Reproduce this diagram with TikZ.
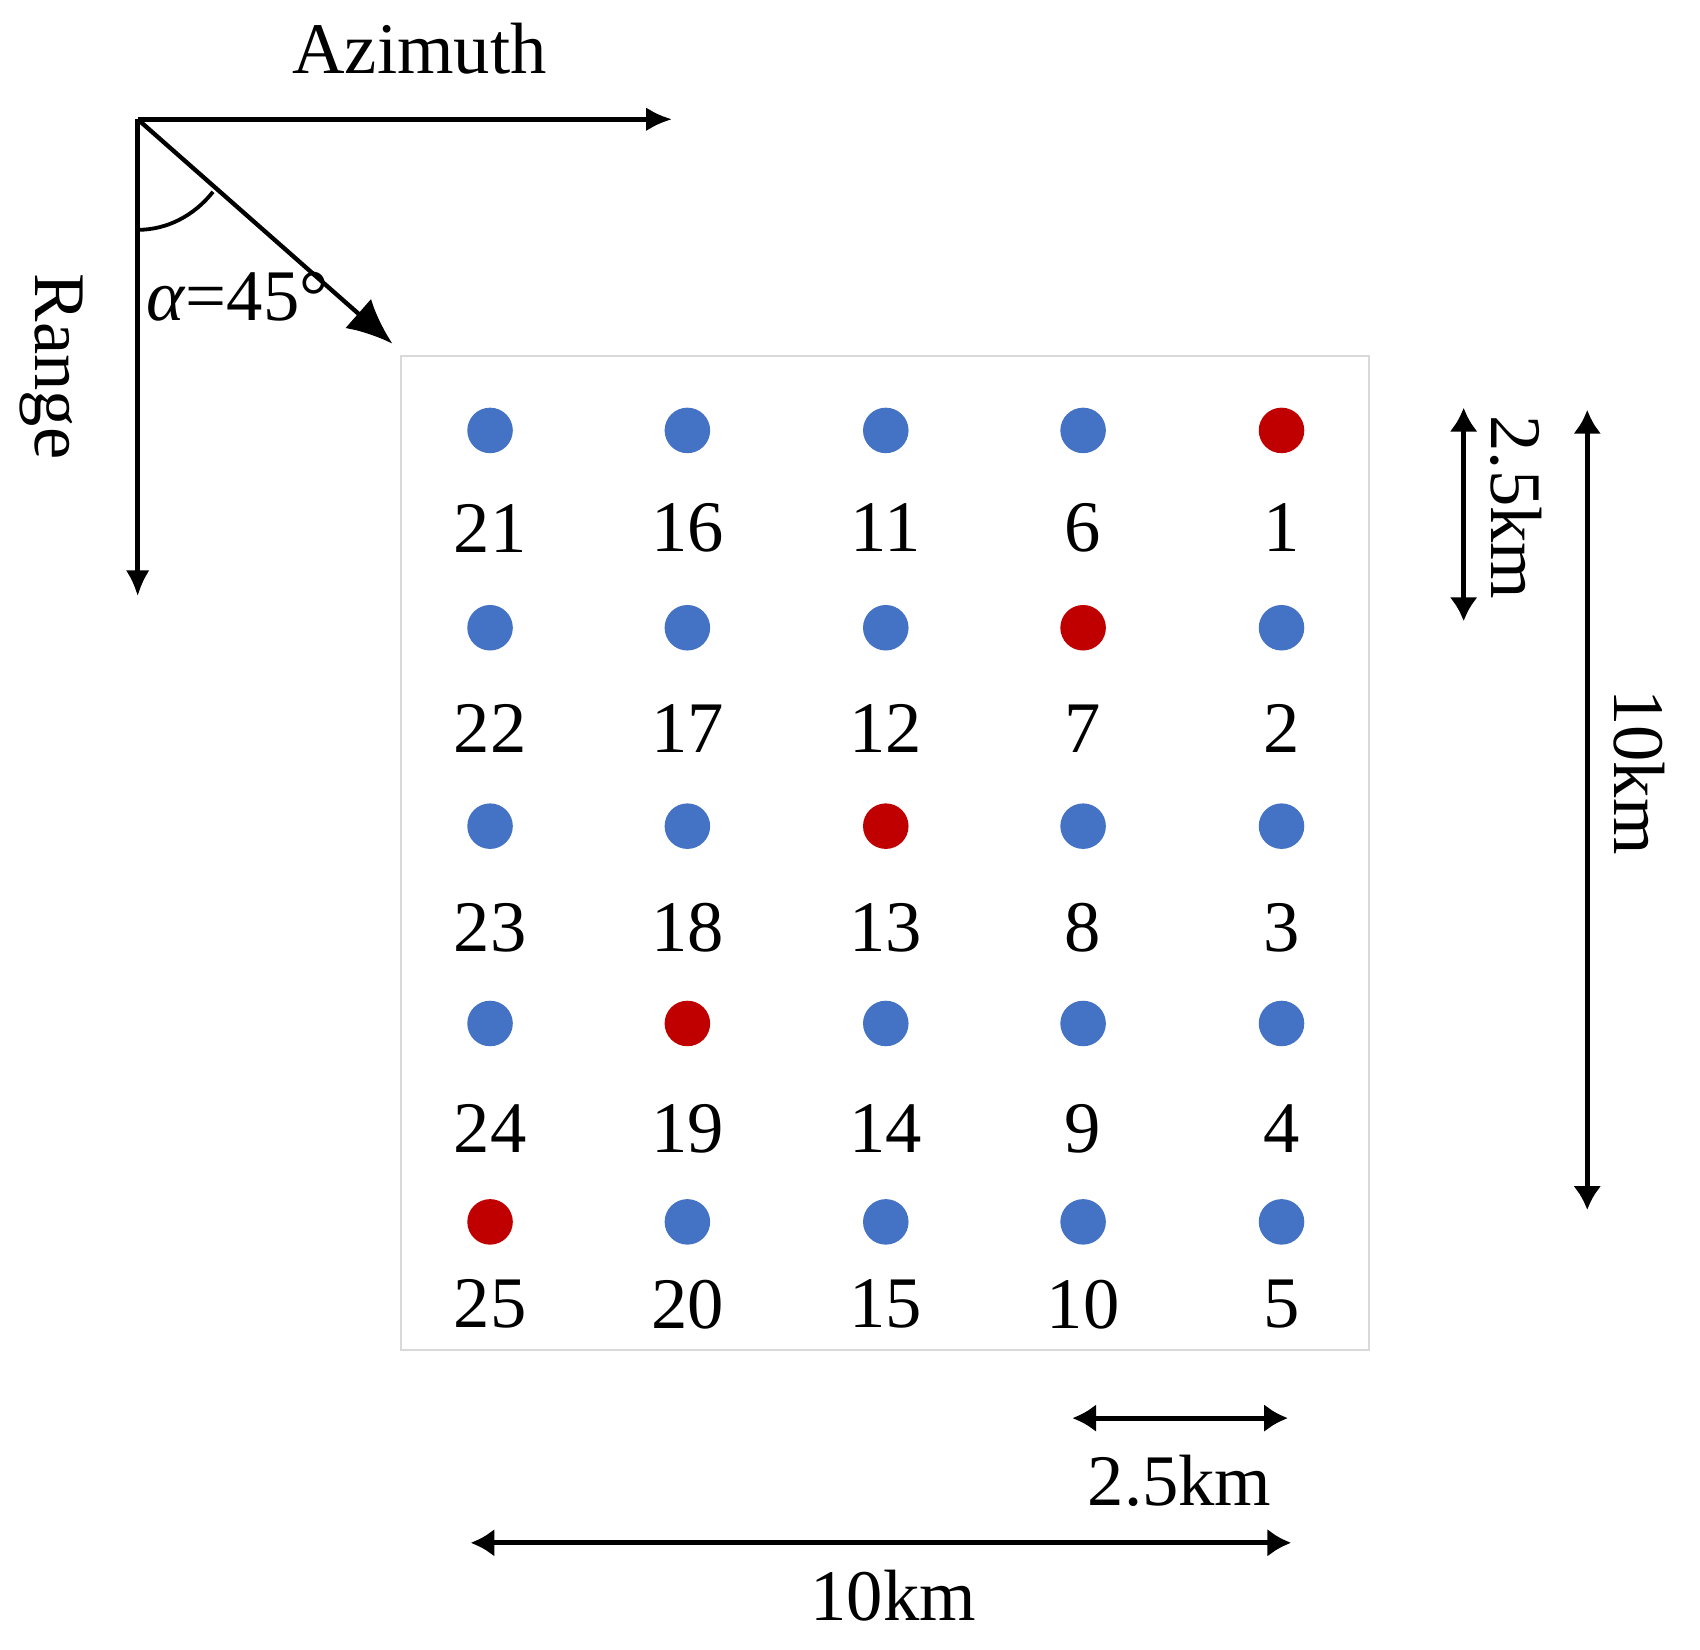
\documentclass[tikz,border=0pt]{standalone}
\usepackage{fontspec}
\setmainfont{Liberation Serif}
\usetikzlibrary{arrows.meta}
\definecolor{dotblue}{HTML}{4472C4}
\definecolor{dotred}{HTML}{C00000}
\definecolor{boxgray}{HTML}{D9D9D9}
\tikzset{
  bdot/.style={circle, fill=dotblue, inner sep=0pt, minimum size=42pt},
  rdot/.style={circle, fill=dotred, inner sep=0pt, minimum size=42pt},
  num/.style={font=\fontsize{67}{80}\selectfont, inner sep=0pt},
  axis/.style={line width=4.2pt, -{Latex[length=24pt,width=22pt]}},
  dimarrow/.style={line width=4.8pt, {Latex[length=22pt,width=26pt]}-{Latex[length=22pt,width=26pt]}}
}
\begin{document}
\begin{tikzpicture}[x=1pt,y=-1pt]
   \useasboundingbox (0,0) rectangle (1568,1521);

   % axes
   \coordinate (org) at (127,110);
   \coordinate (azi) at (620,110);
   \coordinate (rng) at (127,550);
   \coordinate (los) at (362,317);
   \draw[axis] (org) -- (azi);
   \draw[axis] (org) -- (rng);
   \draw[line width=4pt, -{Latex[length=42pt,width=36pt]}] (org) -- (los);
   \draw[line width=3.5pt] (org) ++(0,102) arc[start angle=90, end angle=41, x radius=92, y radius=102];

   \node[num] (azt) at (387,45) {Azimuth};
   \node[num, rotate=-90] (rgt) at (47,338) {Range};
   \node[num] (alt) at (219,274) {\textit{α}=45°};

   % target field
   \draw[boxgray, line width=2pt] (370,328) rectangle (1263,1245);

   \node[bdot] (p21) at (452,397) {};  \node[num] (n21) at (452,487) {21};
   \node[bdot] (p16) at (634,397) {};  \node[num] (n16) at (634,487) {16};
   \node[bdot] (p11) at (817,397) {};  \node[num] (n11) at (817,487) {11};
   \node[bdot] (p6)  at (999,397) {};  \node[num] (n6)  at (999,487) {6};
   \node[rdot] (p1)  at (1182,397) {}; \node[num] (n1)  at (1182,487) {1};

   \node[bdot] (p22) at (452,579) {};  \node[num] (n22) at (452,672) {22};
   \node[bdot] (p17) at (634,579) {};  \node[num] (n17) at (634,672) {17};
   \node[bdot] (p12) at (817,579) {};  \node[num] (n12) at (817,672) {12};
   \node[rdot] (p7)  at (999,579) {};  \node[num] (n7)  at (999,672) {7};
   \node[bdot] (p2)  at (1182,579) {}; \node[num] (n2)  at (1182,672) {2};

   \node[bdot] (p23) at (452,762) {};  \node[num] (n23) at (452,856) {23};
   \node[bdot] (p18) at (634,762) {};  \node[num] (n18) at (634,856) {18};
   \node[rdot] (p13) at (817,762) {};  \node[num] (n13) at (817,856) {13};
   \node[bdot] (p8)  at (999,762) {};  \node[num] (n8)  at (999,856) {8};
   \node[bdot] (p3)  at (1182,762) {}; \node[num] (n3)  at (1182,856) {3};

   \node[bdot] (p24) at (452,944) {};  \node[num] (n24) at (452,1041) {24};
   \node[rdot] (p19) at (634,944) {};  \node[num] (n19) at (634,1041) {19};
   \node[bdot] (p14) at (817,944) {};  \node[num] (n14) at (817,1041) {14};
   \node[bdot] (p9)  at (999,944) {};  \node[num] (n9)  at (999,1041) {9};
   \node[bdot] (p4)  at (1182,944) {}; \node[num] (n4)  at (1182,1041) {4};

   \node[rdot] (p25) at (452,1127) {};  \node[num] (n25) at (452,1203) {25};
   \node[bdot] (p20) at (634,1127) {};  \node[num] (n20) at (634,1203) {20};
   \node[bdot] (p15) at (817,1127) {};  \node[num] (n15) at (817,1203) {15};
   \node[bdot] (p10) at (999,1127) {};  \node[num] (n10) at (999,1203) {10};
   \node[bdot] (p5)  at (1182,1127) {}; \node[num] (n5)  at (1182,1203) {5};

   % spacing
   \coordinate (v25a) at (1350,376);
   \coordinate (v25b) at (1350,573);
   \draw[dimarrow] (v25a) -- (v25b);
   \node[num, rotate=-90] (v25t) at (1398,468) {2.5km};

   \coordinate (v10a) at (1464,378);
   \coordinate (v10b) at (1464,1116);
   \draw[dimarrow] (v10a) -- (v10b);
   \node[num, rotate=-90] (v10t) at (1512,712) {10km};

   \coordinate (h25a) at (989,1308);
   \coordinate (h25b) at (1188,1308);
   \draw[dimarrow] (h25a) -- (h25b);
   \node[num] (h25t) at (1088,1366) {2.5km};

   \coordinate (h10a) at (434,1423);
   \coordinate (h10b) at (1191,1423);
   \draw[dimarrow] (h10a) -- (h10b);
   \node[num] (h10t) at (824,1472) {10km};
\end{tikzpicture}
\end{document}
